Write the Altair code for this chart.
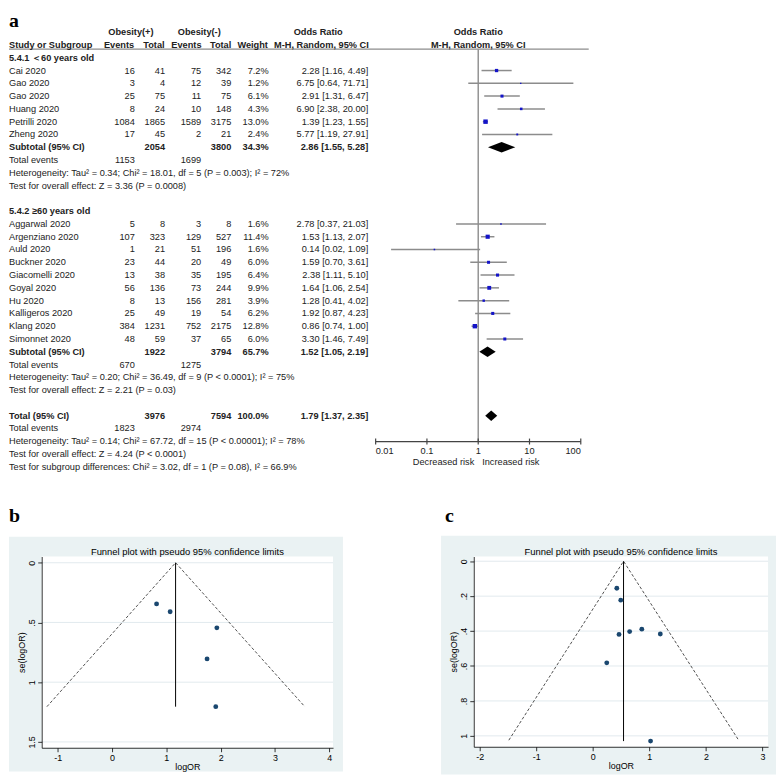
import altair as alt
import pandas as pd

# ------------------------------------------------------------------ data
study_lt60 = ["Cai 2020", "Gao 2020", "Gao 2020", "Huang 2020", "Petrilli 2020", "Zheng 2020"]
events_pos_lt60 = [16, 3, 25, 8, 1084, 17]
total_pos_lt60 = [41, 4, 75, 24, 1865, 45]
events_neg_lt60 = [75, 12, 11, 10, 1589, 2]
total_neg_lt60 = [342, 39, 75, 148, 3175, 21]
weight_lt60 = [7.2, 1.2, 6.1, 4.3, 13.0, 2.4]
or_lt60 = [2.28, 6.75, 2.91, 6.90, 1.39, 5.77]
lo_lt60 = [1.16, 0.64, 1.31, 2.38, 1.23, 1.19]
hi_lt60 = [4.49, 71.71, 6.47, 20.00, 1.55, 27.91]

study_ge60 = ["Aggarwal 2020", "Argenziano 2020", "Auld 2020", "Buckner 2020", "Giacomelli 2020",
              "Goyal 2020", "Hu 2020", "Kalligeros 2020", "Klang 2020", "Simonnet 2020"]
events_pos_ge60 = [5, 107, 1, 23, 13, 56, 8, 25, 384, 48]
total_pos_ge60 = [8, 323, 21, 44, 38, 136, 13, 49, 1231, 59]
events_neg_ge60 = [3, 129, 51, 20, 35, 73, 156, 19, 752, 37]
total_neg_ge60 = [8, 527, 196, 49, 195, 244, 281, 54, 2175, 65]
weight_ge60 = [1.6, 11.4, 1.6, 6.0, 6.4, 9.9, 3.9, 6.2, 12.8, 6.0]
or_ge60 = [2.78, 1.53, 0.14, 1.59, 2.38, 1.64, 1.28, 1.92, 0.86, 3.30]
lo_ge60 = [0.37, 1.13, 0.02, 0.70, 1.11, 1.06, 0.41, 0.87, 0.74, 1.46]
hi_ge60 = [21.03, 2.07, 1.09, 3.61, 5.10, 2.54, 4.02, 4.23, 1.00, 7.49]

subgroup_names = ["5.4.1 ＜60 years old", "5.4.2 ≥60 years old"]
subtotal_total_pos = [2054, 1922]
subtotal_total_neg = [3800, 3794]
subtotal_weight = [34.3, 65.7]
subtotal_or = [2.86, 1.52]
subtotal_lo = [1.55, 1.05]
subtotal_hi = [5.28, 2.19]
subtotal_events_pos = [1153, 670]
subtotal_events_neg = [1699, 1275]
heterogeneity = ["Heterogeneity: Tau² = 0.34; Chi² = 18.01, df = 5 (P = 0.003); I² = 72%",
                 "Heterogeneity: Tau² = 0.20; Chi² = 36.49, df = 9 (P < 0.0001); I² = 75%"]
overall_test = ["Test for overall effect: Z = 3.36 (P = 0.0008)",
                "Test for overall effect: Z = 2.21 (P = 0.03)"]

total_values = [3976, 7594, 100.0, 1.79, 1.37, 2.35]
total_events = [1823, 2974]
total_het = "Heterogeneity: Tau² = 0.14; Chi² = 67.72, df = 15 (P < 0.00001); I² = 78%"
total_test = "Test for overall effect: Z = 4.24 (P < 0.0001)"
subgroup_test = "Test for subgroup differences: Chi² = 3.02, df = 1 (P = 0.08), I² = 66.9%"

header_row1 = ["Obesity(+)", "Obesity(-)", "Odds Ratio", "Odds Ratio"]
header_row2 = ["Study or Subgroup", "Events", "Total", "Events", "Total", "Weight",
               "M-H, Random, 95% CI", "M-H, Random, 95% CI"]
forest_ticks = [0.01, 0.1, 1, 10, 100]
forest_tick_labels = ["0.01", "0.1", "1", "10", "100"]
favours = ["Decreased risk", "Increased risk"]

# funnel plot b (< 60 years)
fb_logor = [0.82, 1.07, 1.93, 1.75, 1.91]
fb_se = [0.345, 0.41, 0.545, 0.805, 1.205]
fb_limit_x = [-1.20, 1.17, 3.55]
fb_limit_se = [1.205, 0.0, 1.205]
fb_center = [1.17]
fb_se_max = [1.205]
fb_xticks = [-1, 0, 1, 2, 3, 4]
fb_yticks = [0, 0.5, 1, 1.5]

# funnel plot c (>= 60 years)
fc_logor = [0.425, 0.495, 0.464, 0.652, 0.867, 1.194, 0.247, 1.022]
fc_se = [0.155, 0.223, 0.419, 0.403, 0.389, 0.417, 0.582, 1.03]
fc_limit_x = [-1.485, 0.544, 2.58]
fc_limit_se = [1.025, 0.0, 1.025]
fc_center = [0.544]
fc_se_max = [1.03]
fc_xticks = [-2, -1, 0, 1, 2, 3]
fc_yticks = [0, 0.2, 0.4, 0.6, 0.8, 1]

funnel_title = "Funnel plot with pseudo 95% confidence limits"

# ------------------------------------------------------------------ style
FONT = "Liberation Sans"
SERIF = "Liberation Serif"
TXT = "#222222"
FS = 9.3
LINE_GRAY = "#8c8c8c"
BOX_BLUE = "#1414c8"
TEAL = "#eaf2f3"
GRID = "#e2eaee"
NAVY = "#1a476f"
DH = 0.41  # diamond half height in rows
OX = -33   # the forest panel's origin is shared with the funnel row (33 px in)

COLS = {"label": (0, "left"), "ep": (127, "right"), "tp": (157.5, "right"),
        "en": (194, "right"), "tn": (224.3, "right"), "w": (262, "right"),
        "ci": (362.5, "right")}
H1_POS = [(123, "center"), (192, "center"), (312, "center"), (473.5, "center")]
H2_POS = [(0, "left"), (126.3, "right"), (157, "right"), (194.3, "right"),
          (224.3, "right"), (261.3, "right"), (363, "right"), (473.5, "center")]

TOP_W, TOP_H = 560, 462
yscale = alt.Scale(domain=[0, 32], range=[46.7, 459.5], nice=False, zero=False)
xscale = alt.Scale(type="log", domain=[0.01, 100], range=[370 + OX, 577 + OX], nice=False)

# ------------------------------------------------------------------ build table
cells, boxes, diamonds = [], [], []


def add(row, col, text, bold=False):
    cells.append({"row": row, "key": col + ("_b" if bold else ""), "text": str(text)})


def ci(o, l, h):
    return f"{o:.2f} [{l:.2f}, {h:.2f}]"


def diamond(i, row, o, l, h):
    for x, d in ((l, 0.0), (o, DH), (h, 0.0)):
        diamonds.append({"id": i, "x": x, "y": row - d, "y2": row + d})


groups = [
    (study_lt60, events_pos_lt60, total_pos_lt60, events_neg_lt60, total_neg_lt60,
     weight_lt60, or_lt60, lo_lt60, hi_lt60),
    (study_ge60, events_pos_ge60, total_pos_ge60, events_neg_ge60, total_neg_ge60,
     weight_ge60, or_ge60, lo_ge60, hi_ge60),
]
r = 0
for g, (st, ep, tp, en, tn, w, o, l, h) in enumerate(groups):
    add(r, "label", subgroup_names[g], True)
    r += 1
    for i in range(len(st)):
        add(r, "label", st[i])
        add(r, "ep", ep[i])
        add(r, "tp", tp[i])
        add(r, "en", en[i])
        add(r, "tn", tn[i])
        add(r, "w", f"{w[i]:.1f}%")
        add(r, "ci", ci(o[i], l[i], h[i]))
        boxes.append({"row": r, "or": o[i], "lo": l[i], "hi": h[i], "weight": w[i]})
        r += 1
    add(r, "label", "Subtotal (95% CI)", True)
    add(r, "tp", subtotal_total_pos[g], True)
    add(r, "tn", subtotal_total_neg[g], True)
    add(r, "w", f"{subtotal_weight[g]:.1f}%", True)
    add(r, "ci", ci(subtotal_or[g], subtotal_lo[g], subtotal_hi[g]), True)
    diamond(g, r, subtotal_or[g], subtotal_lo[g], subtotal_hi[g])
    r += 1
    add(r, "label", "Total events")
    add(r, "ep", subtotal_events_pos[g])
    add(r, "en", subtotal_events_neg[g])
    r += 1
    add(r, "label", heterogeneity[g])
    r += 1
    add(r, "label", overall_test[g])
    r += 1
    r += 1

add(r, "label", "Total (95% CI)", True)
add(r, "tp", total_values[0], True)
add(r, "tn", total_values[1], True)
add(r, "w", f"{total_values[2]:.1f}%", True)
add(r, "ci", ci(total_values[3], total_values[4], total_values[5]), True)
diamond(2, r, total_values[3], total_values[4], total_values[5])
r += 1
add(r, "label", "Total events")
add(r, "ep", total_events[0])
add(r, "en", total_events[1])
r += 1
add(r, "label", total_het)
r += 1
add(r, "label", total_test)
r += 1
add(r, "label", subgroup_test)

cells_df = pd.DataFrame(cells)
boxes_df = pd.DataFrame(boxes)
diam_df = pd.DataFrame(diamonds)
one = pd.DataFrame({"k": [0]})

layers = []


def ytext(df, x, align, bold):
    return alt.Chart(df).mark_text(
        align=align, baseline="middle", font=FONT, fontSize=FS,
        fontWeight="bold" if bold else "normal", color=TXT
    ).encode(x=alt.value(x + OX), y=alt.Y("row:Q", scale=yscale, axis=None), text="text:N")


# panel letter a
layers.append(alt.Chart(one).mark_text(
    align="left", baseline="alphabetic", font=SERIF, fontSize=20, fontWeight="bold", color="#000"
).encode(x=alt.value(OX), y=alt.value(16), text=alt.value("a")))

# header line
layers.append(alt.Chart(one).mark_rule(color=LINE_GRAY, strokeWidth=1.3).encode(
    x=alt.value(OX), x2=alt.value(585 + OX), y=alt.value(38)))

for t, (x, a) in zip(header_row1, H1_POS):
    layers.append(ytext(pd.DataFrame({"row": [-2], "text": [t]}), x, a, True))
for t, (x, a) in zip(header_row2, H2_POS):
    layers.append(ytext(pd.DataFrame({"row": [-1], "text": [t]}), x, a, True))

for key in cells_df["key"].unique():
    base = key.replace("_b", "")
    bold = key.endswith("_b")
    x, a = COLS[base]
    layers.append(ytext(cells_df[cells_df["key"] == key], x, a, bold))

# forest: vertical line at OR = 1
layers.append(alt.Chart(pd.DataFrame({"v": [1]})).mark_rule(color=LINE_GRAY, strokeWidth=1.4).encode(
    x=alt.X("v:Q", scale=xscale, axis=None), y=alt.value(38), y2=alt.value(434)))

# CI lines
layers.append(alt.Chart(boxes_df).mark_rule(color=LINE_GRAY, strokeWidth=1.5).encode(
    x=alt.X("lo:Q", scale=xscale, axis=None), x2="hi:Q",
    y=alt.Y("row:Q", scale=yscale, axis=None)))
# weight boxes
layers.append(alt.Chart(boxes_df).mark_square(color=BOX_BLUE, opacity=1).encode(
    x=alt.X("or:Q", scale=xscale, axis=None),
    y=alt.Y("row:Q", scale=yscale, axis=None),
    size=alt.Size("weight:Q", scale=alt.Scale(domain=[0, 13], range=[0, 20]), legend=None)))
# diamonds
layers.append(alt.Chart(diam_df).mark_area(color="#000", orient="vertical", opacity=1).encode(
    x=alt.X("x:Q", scale=xscale, axis=None),
    y=alt.Y("y:Q", scale=yscale, axis=None), y2="y2:Q", detail="id:N"))

# forest axis
ticks_df = pd.DataFrame({"v": forest_ticks, "text": forest_tick_labels})
layers.append(alt.Chart(pd.DataFrame({"a": [forest_ticks[0]], "b": [forest_ticks[-1]]})).mark_rule(
    color="#444", strokeWidth=1.2).encode(
    x=alt.X("a:Q", scale=xscale, axis=None), x2="b:Q", y=alt.value(434)))
layers.append(alt.Chart(ticks_df).mark_rule(color="#444", strokeWidth=1.2).encode(
    x=alt.X("v:Q", scale=xscale, axis=None), y=alt.value(431), y2=alt.value(437)))
for sub, a in ((ticks_df.iloc[:1], "left"), (ticks_df.iloc[1:-1], "center"), (ticks_df.iloc[-1:], "right")):
    layers.append(alt.Chart(sub).mark_text(
        align=a, baseline="middle", font=FONT, fontSize=FS, color=TXT).encode(
        x=alt.X("v:Q", scale=xscale, axis=None), y=alt.value(444), text="text:N"))
fav_df = pd.DataFrame({"v": [1, 1], "text": favours})
layers.append(alt.Chart(fav_df.iloc[:1]).mark_text(
    align="right", baseline="middle", font=FONT, fontSize=FS, color=TXT, dx=-4).encode(
    x=alt.X("v:Q", scale=xscale, axis=None), y=alt.value(455), text="text:N"))
layers.append(alt.Chart(fav_df.iloc[1:]).mark_text(
    align="left", baseline="middle", font=FONT, fontSize=FS, color=TXT, dx=4).encode(
    x=alt.X("v:Q", scale=xscale, axis=None), y=alt.value(455), text="text:N"))

top = alt.layer(*layers).properties(width=TOP_W, height=TOP_H)


# ------------------------------------------------------------------ funnels
def funnel(logor, se, lim_x, lim_se, center, se_max, xticks, yticks, xdom, ydom,
           w, h, teal, letter, letter_x):
    xs = alt.Scale(domain=xdom, nice=False, zero=False)
    ys = alt.Scale(domain=ydom, nice=False, zero=False, reverse=True)
    common = dict(grid=False, domainColor="#000", domainWidth=0.8, tickColor="#000",
                  tickWidth=0.8, tickSize=4, labelFont=FONT, labelFontSize=9,
                  labelColor="#000", titleFont=FONT, titleFontSize=9,
                  titleFontWeight="normal", titleColor="#000", labelFlush=False,
                  labelOverlap=False, zindex=1)
    xaxis = alt.Axis(values=xticks, labelExpr="'' + datum.value", title="logOR",
                     labelPadding=1.5, titlePadding=0, **common)
    yaxis = alt.Axis(values=yticks, labelExpr="replace('' + datum.value, '0.', '.')",
                     title="se(logOR)", labelAngle=270, labelAlign="center",
                     labelBaseline="bottom", labelPadding=1, titlePadding=1, **common)

    bg = alt.Chart(one).mark_rect(color=TEAL).encode(
        x=alt.value(teal[0]), x2=alt.value(teal[1]), y=alt.value(teal[2]), y2=alt.value(teal[3]))
    white = alt.Chart(one).mark_rect(color="white").encode(
        x=alt.value(0), x2=alt.value(w), y=alt.value(0), y2=alt.value(h))
    grid = alt.Chart(pd.DataFrame({"se": yticks})).mark_rule(color=GRID, strokeWidth=1).encode(
        y=alt.Y("se:Q", scale=ys, axis=yaxis), x=alt.value(0), x2=alt.value(w))
    limits = alt.Chart(pd.DataFrame({"logOR": lim_x, "se": lim_se})).mark_line(
        color="#222", strokeWidth=0.8, strokeDash=[3, 2]).encode(
        x=alt.X("logOR:Q", scale=xs, axis=xaxis), y=alt.Y("se:Q", scale=ys, axis=yaxis))
    vline = alt.Chart(pd.DataFrame({"logOR": center, "se": [0.0], "se2": se_max})).mark_rule(
        color="#000", strokeWidth=1).encode(
        x=alt.X("logOR:Q", scale=xs, axis=xaxis), y=alt.Y("se:Q", scale=ys, axis=yaxis), y2="se2:Q")
    pts = alt.Chart(pd.DataFrame({"logOR": logor, "se": se})).mark_circle(
        size=24, color=NAVY, opacity=1).encode(
        x=alt.X("logOR:Q", scale=xs, axis=xaxis), y=alt.Y("se:Q", scale=ys, axis=yaxis))
    title = alt.Chart(one).mark_text(
        font=FONT, fontSize=9.5, color="#000", baseline="middle", align="center").encode(
        x=alt.value(w / 2), y=alt.value(-5), text=alt.value(funnel_title))
    lab = alt.Chart(one).mark_text(
        font=SERIF, fontSize=20, fontWeight="bold", color="#000", align="left",
        baseline="alphabetic").encode(
        x=alt.value(letter_x), y=alt.value(-35), text=alt.value(letter))
    return alt.layer(bg, white, grid, limits, vline, pts, title, lab).properties(width=w, height=h)


fb = funnel(fb_logor, fb_se, fb_limit_x, fb_limit_se, fb_center, fb_se_max, fb_xticks, fb_yticks,
            [-1.296, 4.07], [-0.052, 1.549], 294, 193, (-33, 304, -20, 217), "b", -33)
fc = funnel(fc_logor, fc_se, fc_limit_x, fc_limit_se, fc_center, fc_se_max, fc_xticks, fc_yticks,
            [-2.105, 3.10], [-0.027, 1.0625], 297, 192, (-33, 305, -21, 220), "c", -29)

chart = alt.vconcat(top, alt.hconcat(fb, fc, spacing=99), spacing=34).properties(
    padding=0).configure_view(strokeWidth=0)

chart.save("out.html", embed_options={"renderer": "svg", "actions": False})
